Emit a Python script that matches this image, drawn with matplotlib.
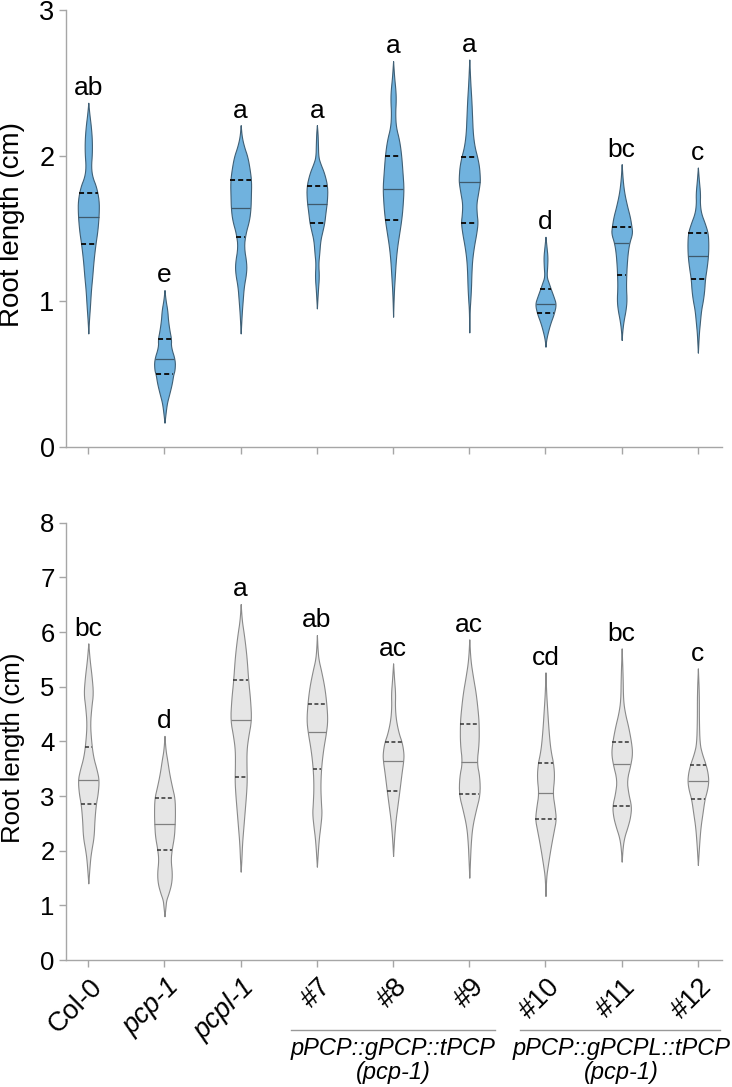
import numpy as np
import matplotlib
matplotlib.use("Agg")
import matplotlib.pyplot as plt
from matplotlib.transforms import blended_transform_factory, ScaledTranslation

plt.rcParams['font.family'] = ['Liberation Sans', 'DejaVu Sans']

# ---------------- data ----------------
categories = ['Col-0', 'pcp-1', 'pcpl-1', '#7', '#8', '#9', '#10', '#11', '#12']
italic_cats = [False, True, True, False, False, False, False, False, False]

group_labels = ['pPCP::gPCP::tPCP', 'pPCP::gPCPL::tPCP']
group_sub = ['(pcp-1)', '(pcp-1)']
group_centers = [4, 7]

# top panel: density profiles (root length levels, relative widths)
top_levels = [
    [2.363, 2.289, 2.198, 2.106, 2.015, 1.923, 1.854, 1.786, 1.694, 1.603, 1.488, 1.397, 1.282, 1.168, 1.076, 0.962, 0.870, 0.778],
    [1.076, 1.007, 0.939, 0.870, 0.801, 0.739, 0.687, 0.595, 0.527, 0.497, 0.435, 0.366, 0.321, 0.286, 0.229, 0.165],
    [2.209, 2.129, 2.060, 1.992, 1.900, 1.820, 1.717, 1.637, 1.557, 1.465, 1.374, 1.259, 1.190, 1.099, 1.007, 0.916, 0.778],
    [2.209, 2.152, 2.083, 1.992, 1.946, 1.877, 1.786, 1.694, 1.603, 1.541, 1.488, 1.419, 1.328, 1.259, 1.168, 1.076, 0.950],
    [2.649, 2.541, 2.450, 2.381, 2.289, 2.198, 2.106, 2.003, 1.877, 1.774, 1.648, 1.557, 1.465, 1.374, 1.282, 1.168, 1.053, 0.893],
    [2.660, 2.495, 2.381, 2.266, 2.152, 2.060, 1.987, 1.923, 1.854, 1.815, 1.740, 1.671, 1.603, 1.541, 1.465, 1.374, 1.282, 1.190, 1.099, 1.007, 0.939, 0.785],
    [1.442, 1.374, 1.305, 1.236, 1.168, 1.122, 1.081, 1.030, 0.980, 0.916, 0.847, 0.778, 0.733, 0.687],
    [1.941, 1.832, 1.740, 1.648, 1.580, 1.511, 1.465, 1.401, 1.328, 1.236, 1.184, 1.099, 1.007, 0.939, 0.870, 0.801, 0.733],
    [1.918, 1.832, 1.740, 1.671, 1.603, 1.534, 1.470, 1.397, 1.314, 1.236, 1.149, 1.076, 1.007, 0.939, 0.847, 0.778, 0.646],
]
top_density = [
    [0, 3, 8, 11, 11, 8, 12, 24, 32, 32, 28, 22, 16, 12, 8, 5, 2, 0],
    [0, 3, 8, 10, 14, 19, 18, 30, 29, 25, 21, 14, 9, 6, 3, 0],
    [0, 3, 10, 20, 27, 31, 30, 29, 25, 14, 9, 17, 16, 9, 6, 3, 0],
    [0, 2, 3, 4, 10, 22, 31, 30, 25, 22, 17, 10, 7, 4, 6, 3, 0],
    [0, 3, 7, 8, 6, 8, 18, 24, 28, 31, 28, 24, 18, 12, 8, 5, 2, 0],
    [0, 3, 6, 8, 10, 15, 23, 28, 30, 30, 25, 20, 21, 24, 20, 13, 8, 6, 5, 3, 1, 0],
    [0, 3, 6, 5, 3, 10, 16, 24, 31, 25, 14, 6, 2, 0],
    [0, 3, 8, 17, 25, 30, 32, 23, 18, 15, 14, 13, 15, 12, 6, 2, 0],
    [0, 3, 7, 6, 10, 22, 31, 33, 32, 28, 22, 20, 16, 10, 6, 3, 0],
]
top_q1 = [1.39, 0.50, 1.44, 1.54, 1.56, 1.54, 0.92, 1.18, 1.15]
top_median = [1.58, 0.60, 1.64, 1.67, 1.77, 1.82, 0.98, 1.40, 1.31]
top_q3 = [1.74, 0.74, 1.83, 1.79, 2.00, 1.99, 1.08, 1.51, 1.47]
top_letters = ['ab', 'e', 'a', 'a', 'a', 'a', 'd', 'bc', 'c']

# bottom panel
bot_levels = [
    [5.793, 5.488, 5.183, 4.878, 4.634, 4.329, 4.024, 3.720, 3.476, 3.293, 3.049, 2.848, 2.561, 2.256, 2.012, 1.829, 1.402],
    [4.10, 3.84, 3.66, 3.41, 3.17, 2.96, 2.68, 2.48, 2.26, 2.02, 1.83, 1.59, 1.40, 1.22, 1.10, 0.98, 0.80],
    [6.512, 6.220, 5.976, 5.732, 5.488, 5.122, 4.756, 4.390, 4.085, 3.841, 3.537, 3.293, 3.049, 2.744, 2.439, 2.134, 1.829, 1.616],
    [5.945, 5.671, 5.488, 5.305, 5.000, 4.689, 4.390, 4.165, 3.841, 3.500, 3.171, 2.866, 2.683, 2.439, 2.195, 1.707],
    [5.427, 5.122, 4.878, 4.634, 4.390, 4.146, 3.982, 3.780, 3.640, 3.415, 3.098, 2.805, 2.561, 2.256, 1.902],
    [5.866, 5.488, 5.183, 4.878, 4.512, 4.311, 3.963, 3.616, 3.354, 3.030, 2.744, 2.439, 2.134, 1.829, 1.506],
    [5.262, 4.878, 4.573, 4.268, 3.963, 3.780, 3.598, 3.354, 3.049, 2.805, 2.579, 2.378, 2.073, 1.707, 1.524, 1.171],
    [5.701, 5.183, 4.756, 4.512, 4.268, 3.976, 3.780, 3.585, 3.293, 3.049, 2.817, 2.622, 2.439, 2.256, 2.073, 1.799],
    [5.335, 4.878, 4.390, 3.963, 3.780, 3.573, 3.415, 3.268, 3.110, 2.939, 2.683, 2.439, 2.134, 1.738],
]
bot_density = [
    [0, 4, 10, 14, 9, 5, 8, 14, 25, 31, 28, 22, 18, 16, 9, 5, 0],
    [0, 3, 8, 14, 22, 30, 31, 30, 28, 21, 18, 22, 20, 12, 5, 3, 0],
    [0, 3, 9, 14, 18, 22, 28, 31, 22, 17, 17, 18, 16, 12, 8, 4, 2, 0],
    [0, 2, 5, 12, 22, 28, 31, 27, 18, 12, 10, 12, 14, 10, 5, 0],
    [0, 3, 6, 5, 8, 16, 25, 30, 29, 24, 18, 12, 7, 3, 0],
    [0, 3, 10, 18, 24, 26, 26, 20, 28, 29, 18, 8, 4, 2, 0],
    [0, 2, 5, 8, 12, 16, 22, 25, 20, 26, 30, 24, 15, 6, 2, 0],
    [0, 3, 4, 10, 20, 29, 32, 27, 15, 20, 29, 26, 18, 8, 3, 0],
    [0, 3, 3, 5, 12, 24, 30, 32, 28, 20, 14, 8, 4, 0],
]
bot_q1 = [2.85, 2.02, 3.34, 3.50, 3.10, 3.03, 2.58, 2.82, 2.94]
bot_median = [3.29, 2.48, 4.39, 4.17, 3.64, 3.62, 3.05, 3.59, 3.27]
bot_q3 = [3.90, 2.96, 5.12, 4.69, 3.98, 4.31, 3.60, 3.98, 3.57]
bot_letters = ['bc', 'd', 'a', 'ab', 'ac', 'ac', 'cd', 'bc', 'c']

# ---------------- figure ----------------
W, H = 732, 1087
fig = plt.figure(figsize=(W / 100, H / 100), dpi=100)
left_px, right_px = 65.7, 721.5
ax1 = fig.add_axes([left_px / W, 1 - 446.7 / H, (right_px - left_px) / W, (446.7 - 10) / H])
ax2 = fig.add_axes([left_px / W, 1 - 960 / H, (right_px - left_px) / W, (960 - 522.7) / H])

HALF = 0.138
spine_col = '#a6a6a6'


def corner_cut(y, w, n=2):
    """Chaikin corner cutting to round the outline drawn through the read points."""
    for _ in range(n):
        ny, nw = [y[0]], [w[0]]
        for k in range(len(y) - 1):
            ny += [0.75 * y[k] + 0.25 * y[k + 1], 0.25 * y[k] + 0.75 * y[k + 1]]
            nw += [0.75 * w[k] + 0.25 * w[k + 1], 0.25 * w[k] + 0.75 * w[k + 1]]
        ny.append(y[-1]); nw.append(w[-1])
        y, w = np.array(ny), np.array(nw)
    return y, w


def draw_panel(ax, levels, dens, q1, med, q3, letters, fill, edge, medc, qc, lw_q):
    pos = np.arange(len(categories))
    for i in range(len(categories)):
        y = np.array(levels[i], dtype=float)
        w = np.array(dens[i], dtype=float)
        w = w / w.max() * HALF
        ys, ws = corner_cut(y, w)
        ax.fill_betweenx(ys, pos[i] - ws, pos[i] + ws, facecolor=fill, edgecolor=edge,
                         linewidth=0.8, zorder=2)
        order = np.argsort(ys)
        for val, col, ls, lw in [(q1[i], qc, (0, (2.6, 1.6)), lw_q),
                                 (med[i], medc, '-', 0.9),
                                 (q3[i], qc, (0, (2.6, 1.6)), lw_q)]:
            hw = np.interp(val, ys[order], ws[order])
            ax.plot([pos[i] - hw, pos[i] + hw], [val, val], color=col, ls=ls, lw=lw,
                    zorder=3, solid_capstyle='butt')
        ax.annotate(letters[i], (pos[i], y.max()), xytext=(0, 5.5), textcoords='offset points',
                    ha='center', va='baseline', fontsize=19, color='black')
    ax.set_xlim(-0.2966, 8.31)
    for s in ['top', 'right']:
        ax.spines[s].set_visible(False)
    for s in ['left', 'bottom']:
        ax.spines[s].set_color(spine_col)
        ax.spines[s].set_linewidth(1.0)
    ax.tick_params(axis='both', direction='out', length=5, width=1.0, color=spine_col,
                   labelcolor='black')
    ax.set_xticks(pos)


draw_panel(ax1, top_levels, top_density, top_q1, top_median, top_q3, top_letters,
           '#70b2de', '#3f5f75', '#3f5a6c', '#111111', 1.4)
draw_panel(ax2, bot_levels, bot_density, bot_q1, bot_median, bot_q3, bot_letters,
           '#e6e6e6', '#8a8a8a', '#808080', '#333333', 1.1)

ax1.set_ylim(0, 3)
ax1.set_yticks([0, 1, 2, 3])
ax1.set_xticklabels([])
ax1.tick_params(axis='y', labelsize=19.5, pad=3)
ax1.set_ylabel('Root length (cm)', fontsize=20)
ax1.yaxis.set_label_coords(-0.062, 0.508)

ax2.set_ylim(0, 8)
ax2.set_yticks(range(9))
ax2.tick_params(axis='y', labelsize=18.5, pad=3)
ax2.set_ylabel('Root length (cm)', fontsize=18.5)
ax2.yaxis.set_label_coords(-0.062, 0.485)
ax2.set_xticklabels(categories, rotation=45, ha='right', va='top', rotation_mode='anchor',
                    fontsize=19.5)
ax2.tick_params(axis='x', pad=5)
shift = ScaledTranslation(1 / 72, 0, fig.dpi_scale_trans)
for lab, it in zip(ax2.get_xticklabels(), italic_cats):
    lab.set_transform(lab.get_transform() + shift)
    if it:
        lab.set_style('italic')

# group annotations
tr = blended_transform_factory(ax2.transData, fig.transFigure)
for c, lab, sub in zip(group_centers, group_labels, group_sub):
    x0 = c - 1.34
    x1 = min(c + 1.34, 8.29)
    ax2.plot([x0, x1], [1 - 1030 / H, 1 - 1030 / H], transform=tr, color='#999999', lw=1.0,
             clip_on=False)
    ax2.text(c, 1 - 1055 / H, lab, transform=tr, ha='center', va='baseline', fontsize=17,
             style='italic')
    ax2.text(c, 1 - 1079 / H, sub, transform=tr, ha='center', va='baseline', fontsize=17,
             style='italic')

fig.savefig('out.png', dpi=100)
